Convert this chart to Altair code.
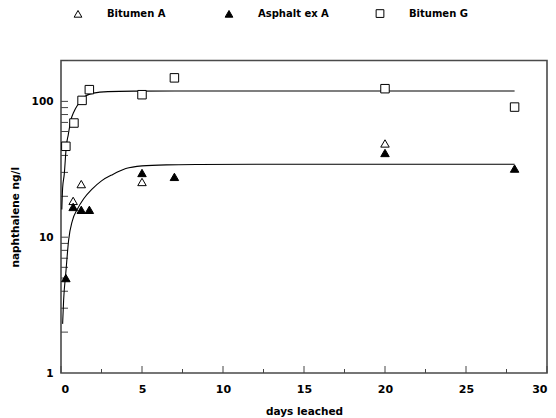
import altair as alt
import pandas as pd

# ---- data ----
series_order = ["Bitumen A", "Asphalt ex A", "Bitumen G"]

bitA_days = [0.75, 1.25, 5.0, 20.0]
bitA_vals = [18.5, 24.6, 25.5, 49.0]

asph_days = [0.3, 0.75, 1.25, 1.75, 5.0, 7.0, 20.0, 28.0]
asph_vals = [5.0, 16.7, 15.9, 15.9, 29.7, 27.8, 41.7, 32.0]

bitG_days = [0.3, 0.8, 1.3, 1.75, 5.0, 7.0, 20.0, 28.0]
bitG_vals = [46.7, 69.3, 101.7, 122.0, 112.0, 149.0, 124.0, 90.8]

# fitted curves
upper_days = [0.05, 0.1, 0.2, 0.33, 0.45, 0.6, 0.8, 1.0, 1.4, 2.0, 2.9, 4.5, 7.0, 12.0, 28.0]
upper_vals = [16, 23, 29, 47, 57, 72, 84, 93, 107, 115, 118.0, 119.0, 119.3, 119.3, 119.3]
lower_days = [0.1, 0.16, 0.31, 0.47, 0.7, 1.0, 1.4, 1.9, 2.5, 3.2, 4.0, 5.0, 6.5, 8.5, 12.0, 28.0]
lower_vals = [2.3, 3.4, 5.7, 9.5, 13.2, 16.0, 19.2, 22.5, 26.0, 29.0, 32.0, 33.5, 34.1, 34.3, 34.4, 34.4]

x_major = [0, 5, 10, 15, 20, 25, 30]
x_minor = [2.5, 7.5, 12.5, 17.5, 22.5, 27.5]
y_labels = [1, 10, 100]
y_ticks = [2, 3, 4, 5, 6, 7, 8, 9, 10, 20, 30, 40, 50, 60, 70, 80, 90, 100, 200]

# ---- tables ----
pts = pd.DataFrame(
    [{"series": "Bitumen A", "days": d, "val": v, "o": 0} for d, v in zip(bitA_days, bitA_vals)]
    + [{"series": "Asphalt ex A", "days": d, "val": v, "o": 1} for d, v in zip(asph_days, asph_vals)]
    + [{"series": "Bitumen G", "days": d, "val": v, "o": 2} for d, v in zip(bitG_days, bitG_vals)]
)
curves = pd.DataFrame(
    [{"curve": "upper", "days": d, "val": v} for d, v in zip(upper_days, upper_vals)]
    + [{"curve": "lower", "days": d, "val": v} for d, v in zip(lower_days, lower_vals)]
)
xmaj = pd.DataFrame({"days": x_major})
xmin = pd.DataFrame({"days": x_minor})
ytk = pd.DataFrame({"val": y_ticks})

W = 486
H = 312.5
FONT = "DejaVu Sans"

xscale = alt.Scale(domain=[0, 30], nice=False, zero=False)
yscale = alt.Scale(type="log", domain=[1, 200], nice=False)

xaxis = alt.Axis(values=x_major, format="d", ticks=False, tickSize=0, domain=False, grid=False,
                 labelPadding=10, labelFontSize=11, title="days leached", titlePadding=12)
yaxis = alt.Axis(values=y_labels, format="d", ticks=False, tickSize=0, domain=False, grid=False,
                 labelPadding=8, labelFontSize=10.5, title="naphthalene ng/l", titlePadding=11)


def mk_legend():
    return alt.Legend(title=None, orient="none", direction="horizontal",
                      legendX=12, legendY=-52, padding=0, gridAlign="all",
                      symbolSize=60, symbolStrokeWidth=1,
                      labelOffset=24, columnPadding=45,
                      labelFontSize=10, labelFont=FONT, labelFontWeight="bold")


curve_layer = alt.Chart(curves).mark_line(color="black", strokeWidth=1.1, interpolate="monotone").encode(
    x=alt.X("days:Q", scale=xscale, axis=xaxis),
    y=alt.Y("val:Q", scale=yscale, axis=yaxis),
    detail="curve:N",
)

point_layer = alt.Chart(pts).mark_point(filled=True, strokeWidth=1, opacity=1, size=72).encode(
    x=alt.X("days:Q", scale=xscale),
    y=alt.Y("val:Q", scale=yscale),
    shape=alt.Shape("series:N", scale=alt.Scale(domain=series_order,
                                                 range=["triangle-up", "triangle-up", "square"]),
                    legend=mk_legend()),
    fill=alt.Fill("series:N", scale=alt.Scale(domain=series_order, range=["white", "black", "white"]),
                  legend=mk_legend()),
    stroke=alt.Stroke("series:N", scale=alt.Scale(domain=series_order, range=["black", "black", "black"]),
                      legend=mk_legend()),
    order=alt.Order("o:Q"),
)

ytick_layer = alt.Chart(ytk).mark_rule(color="#444", strokeWidth=1).encode(
    y=alt.Y("val:Q", scale=yscale),
    x=alt.value(0),
    x2=alt.value(7),
)
xmaj_layer = alt.Chart(xmaj).mark_rule(color="#444", strokeWidth=1).encode(
    x=alt.X("days:Q", scale=xscale),
    y=alt.value(H),
    y2=alt.value(H - 7),
)
xmin_layer = alt.Chart(xmin).mark_rule(color="#444", strokeWidth=1).encode(
    x=alt.X("days:Q", scale=xscale),
    y=alt.value(H),
    y2=alt.value(H - 4),
)

chart = alt.layer(ytick_layer, xmaj_layer, xmin_layer, curve_layer, point_layer).properties(
    width=W, height=H,
    autosize=alt.AutoSizeParams(type="none"),
    padding={"left": 53, "top": 52.5, "right": 1, "bottom": 45},
).configure_view(
    stroke="#4a4a4a", strokeWidth=1.6,
).configure_axis(
    labelFont=FONT, labelFontWeight="bold", labelColor="black",
    titleFont=FONT, titleFontWeight="bold", titleColor="black", titleFontSize=10.5,
).configure_legend(
    labelColor="black",
)

chart.save("out.html", embed_options={"renderer": "svg", "actions": False})
